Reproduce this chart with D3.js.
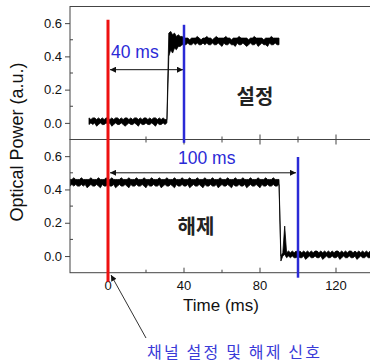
<!DOCTYPE html>
<html>
<head>
<meta charset="utf-8">
<script src="https://cdn.jsdelivr.net/npm/d3@7"></script>
<style>
  body { margin: 0; background: #fff; }
  svg { display: block; }
  text { font-family: "Liberation Sans", Arial, sans-serif; }
  .kr { font-family: "Noto Sans CJK KR", sans-serif; }
</style>
</head>
<body>
<div id="chart"></div>
<script>
// time axis (ms) and tick labels
const xTicksMajor = [0, 40, 80, 120];
const xTicksMinor = [20, 60, 100];
const yTicksMajor = [0.0, 0.2, 0.4, 0.6];
const yTicksMinor = [0.1, 0.3, 0.5];

// upper trace ("설정"): noise envelope [min, max] per 1 ms bin, from -10 ms
const topStart = -10;
const topEnvelope = [
  [-0.01, 0.03], [0.00, 0.02], [-0.01, 0.03], [0.00, 0.03], [-0.02, 0.02], [-0.01, 0.03], [0.00, 0.02], [-0.01, 0.03], [-0.01, 0.02], [0.00, 0.03],
  [-0.01, 0.03], [0.00, 0.02], [-0.02, 0.03], [-0.01, 0.02], [0.00, 0.03], [-0.01, 0.03], [-0.01, 0.02], [0.00, 0.03], [-0.01, 0.02], [-0.02, 0.03],
  [-0.01, 0.03], [0.00, 0.02], [-0.01, 0.03], [-0.01, 0.02], [0.00, 0.03], [-0.01, 0.03], [-0.02, 0.02], [0.00, 0.03], [-0.01, 0.02], [-0.01, 0.03],
  [0.00, 0.03], [-0.01, 0.02], [-0.01, 0.03], [0.00, 0.02], [-0.01, 0.03], [-0.02, 0.03], [0.00, 0.02], [-0.01, 0.03], [-0.01, 0.02], [0.00, 0.03],
  [-0.01, 0.02], [0.00, 0.02],
  [0.40, 0.54], [0.44, 0.55], [0.42, 0.53], [0.45, 0.54], [0.44, 0.52], [0.46, 0.53], [0.46, 0.52], [0.47, 0.52], [0.47, 0.51],
  [0.47, 0.51], [0.48, 0.51], [0.47, 0.50], [0.47, 0.51], [0.48, 0.51], [0.47, 0.51], [0.48, 0.52], [0.47, 0.51], [0.47, 0.50], [0.48, 0.51],
  [0.47, 0.51], [0.48, 0.52], [0.47, 0.51], [0.47, 0.51], [0.48, 0.50], [0.47, 0.51], [0.47, 0.52], [0.48, 0.51], [0.47, 0.51], [0.46, 0.51],
  [0.48, 0.51], [0.47, 0.52], [0.47, 0.51], [0.48, 0.51], [0.47, 0.50], [0.47, 0.51], [0.46, 0.51], [0.48, 0.51], [0.47, 0.52], [0.47, 0.51],
  [0.48, 0.51], [0.47, 0.51], [0.46, 0.51], [0.47, 0.50], [0.48, 0.51], [0.47, 0.51], [0.47, 0.52], [0.48, 0.51], [0.46, 0.51], [0.47, 0.51],
  [0.48, 0.51], [0.47, 0.50], [0.47, 0.51], [0.46, 0.51], [0.48, 0.51], [0.47, 0.52], [0.47, 0.51], [0.48, 0.51], [0.47, 0.51], [0.47, 0.51]
];

// lower trace ("해제"): noise envelope [min, max] per 1 ms bin, from -20 ms
const bottomStart = -20;
const bottomEnvelope = [
  [0.42, 0.46], [0.43, 0.46], [0.42, 0.47], [0.43, 0.46], [0.42, 0.46], [0.42, 0.46], [0.43, 0.47], [0.42, 0.46], [0.43, 0.46], [0.41, 0.46],
  [0.42, 0.46], [0.43, 0.47], [0.42, 0.46], [0.42, 0.46], [0.43, 0.46], [0.42, 0.47], [0.41, 0.46], [0.43, 0.46], [0.42, 0.46], [0.42, 0.47],
  [0.43, 0.46], [0.42, 0.46], [0.42, 0.47], [0.43, 0.46], [0.41, 0.46], [0.42, 0.46], [0.43, 0.46], [0.42, 0.47], [0.42, 0.46], [0.43, 0.46],
  [0.42, 0.46], [0.41, 0.47], [0.43, 0.46], [0.42, 0.46], [0.42, 0.46], [0.43, 0.47], [0.42, 0.46], [0.42, 0.46], [0.43, 0.46], [0.42, 0.47],
  [0.41, 0.46], [0.43, 0.46], [0.42, 0.46], [0.42, 0.47], [0.43, 0.46], [0.42, 0.46], [0.42, 0.46], [0.43, 0.47], [0.41, 0.46], [0.42, 0.46],
  [0.43, 0.46], [0.42, 0.47], [0.42, 0.46], [0.43, 0.46], [0.42, 0.46], [0.41, 0.47], [0.43, 0.46], [0.42, 0.46], [0.42, 0.46], [0.43, 0.47],
  [0.42, 0.46], [0.42, 0.46], [0.43, 0.46], [0.41, 0.47], [0.42, 0.46], [0.43, 0.46], [0.42, 0.46], [0.42, 0.47], [0.43, 0.46], [0.42, 0.46],
  [0.41, 0.46], [0.43, 0.47], [0.42, 0.46], [0.42, 0.46], [0.43, 0.46], [0.42, 0.47], [0.42, 0.46], [0.43, 0.46], [0.41, 0.46], [0.42, 0.47],
  [0.43, 0.46], [0.42, 0.46], [0.42, 0.46], [0.43, 0.47], [0.42, 0.46], [0.41, 0.46], [0.43, 0.46], [0.42, 0.47], [0.42, 0.46], [0.43, 0.46],
  [0.42, 0.46], [0.42, 0.47], [0.43, 0.46], [0.41, 0.46], [0.42, 0.46], [0.43, 0.47], [0.42, 0.46], [0.42, 0.46], [0.43, 0.46], [0.42, 0.47],
  [0.41, 0.46], [0.43, 0.46], [0.42, 0.46], [0.42, 0.47], [0.43, 0.46], [0.42, 0.46], [0.42, 0.46], [0.43, 0.47], [0.42, 0.46], [0.42, 0.46],
  [0.43, 0.46],
  [-0.03, 0.00], [0.00, 0.02], [0.01, 0.18], [-0.01, 0.02], [0.00, 0.03],
  [-0.01, 0.02], [0.00, 0.03], [-0.01, 0.02], [-0.01, 0.03], [0.00, 0.02], [-0.01, 0.03], [-0.01, 0.02], [0.00, 0.03], [-0.02, 0.02], [-0.01, 0.03],
  [0.00, 0.02], [-0.01, 0.03], [-0.01, 0.02], [0.00, 0.03], [-0.01, 0.03], [-0.01, 0.02], [0.00, 0.03], [-0.02, 0.02], [-0.01, 0.03], [0.00, 0.02],
  [-0.01, 0.03], [-0.01, 0.02], [0.00, 0.03], [-0.01, 0.02], [-0.01, 0.03], [0.00, 0.03], [-0.02, 0.02], [-0.01, 0.03], [0.00, 0.02], [-0.01, 0.03],
  [-0.01, 0.02], [0.00, 0.03], [-0.01, 0.03], [-0.01, 0.02], [0.00, 0.03], [-0.02, 0.02], [-0.01, 0.03], [0.00, 0.02], [-0.01, 0.03], [-0.01, 0.02],
  [0.00, 0.03], [-0.01, 0.02], [-0.01, 0.03], [0.00, 0.03], [-0.02, 0.02], [-0.01, 0.03], [0.00, 0.02], [-0.01, 0.03], [-0.01, 0.02], [0.00, 0.03]
];

// switching signal (red) and the delays
const signalTime = 0;
const setDelay = 40;
const releaseDelay = 100;

const width = 370, height = 363;
const red = '#ee1111', blue = '#2a2ad6', axisColor = '#444';

const x = d3.scaleLinear().domain([-20, 140]).range([70, 374]);
const yTop = d3.scaleLinear().domain([-0.1, 0.7]).range([139.5, 6.5]);
const yBot = d3.scaleLinear().domain([-0.1, 0.7]).range([272.7, 139.5]);

const svg = d3.select('#chart').append('svg')
  .attr('width', width)
  .attr('height', height);

const defs = svg.append('defs');
defs.append('marker')
  .attr('id', 'head')
  .attr('viewBox', '0 0 10 10')
  .attr('refX', 10).attr('refY', 5)
  .attr('markerWidth', 7).attr('markerHeight', 6)
  .attr('markerUnits', 'userSpaceOnUse')
  .attr('orient', 'auto-start-reverse')
  .append('path').attr('d', 'M0,0L10,5L0,10Z').attr('fill', '#111');

function panel(y, traceStart, envelope, clipId) {
  const [y0, y1] = y.range();
  defs.append('clipPath').attr('id', clipId)
    .append('rect').attr('x', x(-20)).attr('y', y1).attr('width', 400).attr('height', y0 - y1);

  // scope trace drawn as its min/max band
  const band = d3.area()
    .x((d, i) => x(traceStart + i))
    .y0(d => y(d[0]))
    .y1(d => y(d[1]));

  svg.append('path')
    .datum(envelope)
    .attr('clip-path', `url(#${clipId})`)
    .attr('fill', '#000')
    .attr('stroke', '#000')
    .attr('stroke-width', 0.8)
    .attr('d', band);

  // frame
  svg.append('rect')
    .attr('x', x(-20)).attr('y', y1)
    .attr('width', 400).attr('height', y0 - y1)
    .attr('fill', 'none').attr('stroke', axisColor).attr('stroke-width', 1);

  // left axis: major ticks outside, minor inside
  const left = svg.append('g').attr('transform', `translate(${x(-20)},0)`);
  left.call(d3.axisLeft(y).tickValues(yTicksMajor).tickFormat(d3.format('.1f')).tickSize(5).tickSizeOuter(0))
    .call(g => g.select('.domain').remove())
    .call(g => g.selectAll('line').attr('stroke', axisColor))
    .call(g => g.selectAll('text').attr('font-size', 13).attr('fill', '#111').attr('x', -8));
  left.selectAll('.minor').data(yTicksMinor).enter().append('line')
    .attr('x1', 0).attr('x2', 3)
    .attr('y1', d => y(d)).attr('y2', d => y(d))
    .attr('stroke', axisColor);

  // time ticks pointing inward on the lower edge
  svg.append('g').selectAll('line').data(xTicksMajor.concat(xTicksMinor)).enter().append('line')
    .attr('x1', d => x(d)).attr('x2', d => x(d))
    .attr('y1', y0).attr('y2', d => y0 - (xTicksMajor.includes(d) ? 5 : 3))
    .attr('stroke', axisColor);
}

panel(yTop, topStart, topEnvelope, 'clipTop');
panel(yBot, bottomStart, bottomEnvelope, 'clipBot');

// downward ticks on the top edge of the lower panel
svg.append('g').selectAll('line').data(xTicksMajor.concat(xTicksMinor)).enter().append('line')
  .attr('x1', d => x(d)).attr('x2', d => x(d))
  .attr('y1', yBot.range()[1]).attr('y2', d => yBot.range()[1] + (xTicksMajor.includes(d) ? 5 : 3))
  .attr('stroke', axisColor);

// time tick labels
svg.append('g').selectAll('text').data(xTicksMajor).enter().append('text')
  .attr('x', d => x(d)).attr('y', 290)
  .attr('text-anchor', 'middle')
  .attr('font-size', 13).attr('fill', '#111')
  .text(d => d);

svg.append('text')
  .attr('x', 221).attr('y', 311)
  .attr('text-anchor', 'middle')
  .attr('font-size', 17).attr('fill', '#111')
  .text('Time (ms)');

svg.append('text')
  .attr('transform', 'translate(23,142) rotate(-90)')
  .attr('text-anchor', 'middle')
  .attr('font-size', 18).attr('fill', '#111')
  .text('Optical Power (a.u.)');

// delay arrows
svg.append('line')
  .attr('x1', x(signalTime) + 2).attr('x2', x(setDelay) - 1)
  .attr('y1', yTop(0.32)).attr('y2', yTop(0.32))
  .attr('stroke', '#111').attr('stroke-width', 1)
  .attr('marker-start', 'url(#head)').attr('marker-end', 'url(#head)');
svg.append('line')
  .attr('x1', x(signalTime) + 2).attr('x2', x(releaseDelay) - 2)
  .attr('y1', yBot(0.5)).attr('y2', yBot(0.5))
  .attr('stroke', '#111').attr('stroke-width', 1)
  .attr('marker-start', 'url(#head)').attr('marker-end', 'url(#head)');

// red switching-signal line and blue delay markers
svg.append('line')
  .attr('x1', x(signalTime)).attr('x2', x(signalTime))
  .attr('y1', yTop(0.62)).attr('y2', yBot(-0.155))
  .attr('stroke', red).attr('stroke-width', 3);
svg.append('line')
  .attr('x1', x(setDelay)).attr('x2', x(setDelay))
  .attr('y1', yTop(0.59)).attr('y2', yTop(-0.12))
  .attr('stroke', blue).attr('stroke-width', 2.5);
svg.append('line')
  .attr('x1', x(releaseDelay)).attr('x2', x(releaseDelay))
  .attr('y1', yBot(0.595)).attr('y2', yBot(-0.13))
  .attr('stroke', blue).attr('stroke-width', 2.5);

svg.append('text')
  .attr('x', 111).attr('y', yTop(0.39))
  .attr('font-size', 17.5).attr('fill', blue)
  .text(`${setDelay} ms`);
svg.append('text')
  .attr('x', 178).attr('y', 164)
  .attr('font-size', 17.5).attr('fill', blue)
  .text(`${releaseDelay} ms`);

svg.append('text').attr('class', 'kr')
  .attr('x', 255).attr('y', 104)
  .attr('text-anchor', 'middle')
  .attr('font-size', 20).attr('font-weight', 'bold').attr('fill', '#222')
  .text('설정');
svg.append('text').attr('class', 'kr')
  .attr('x', 196).attr('y', 234)
  .attr('text-anchor', 'middle')
  .attr('font-size', 20).attr('font-weight', 'bold').attr('fill', '#222')
  .text('해제');

// annotation pointing at the signal line
svg.append('line')
  .attr('x1', 146).attr('y1', 338)
  .attr('x2', x(signalTime) + 3).attr('y2', 275)
  .attr('stroke', '#333').attr('stroke-width', 1)
  .attr('marker-end', 'url(#head)');
svg.append('text').attr('class', 'kr')
  .attr('x', 147).attr('y', 358)
  .attr('font-size', 16).attr('fill', '#3a3ad8')
  .attr('textLength', 173).attr('lengthAdjust', 'spacing')
  .text('채널 설정 및 해제 신호');
</script>
</body>
</html>
